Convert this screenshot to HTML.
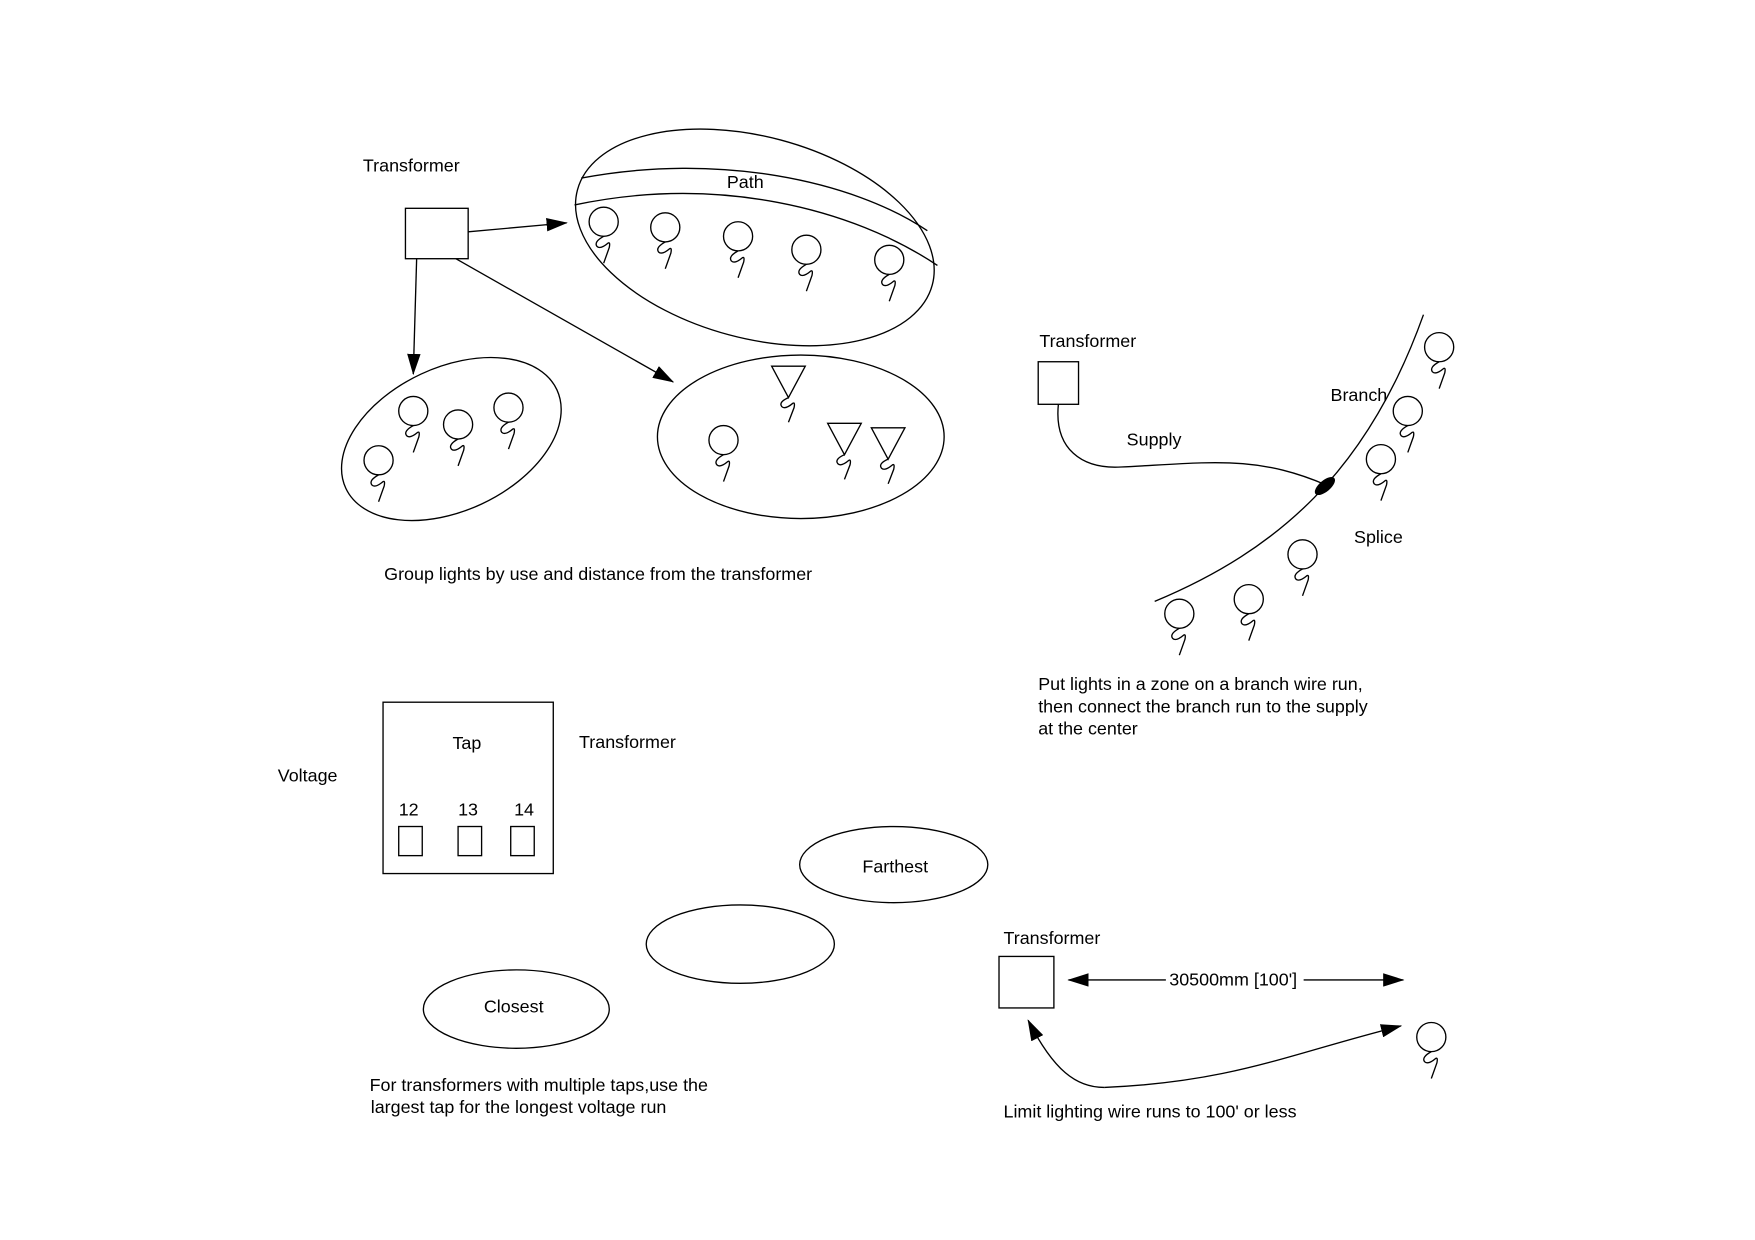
<!DOCTYPE html>
<html><head><meta charset="utf-8"><style>html,body{margin:0;padding:0;background:#fff}svg{display:block}text{font-family:"Liberation Sans",sans-serif;font-size:16px;fill:#000}</style></head><body>
<svg width="1755" height="1240" viewBox="0 0 1567 1107.2" xmlns="http://www.w3.org/2000/svg">
<defs>
<marker id="a" markerWidth="20" markerHeight="12" refX="18" refY="6" orient="auto" markerUnits="userSpaceOnUse"><path d="M0,0 L19,6 L0,12 z" fill="#000"/></marker>
<g id="L"><circle cx="0" cy="0" r="13" fill="none" stroke="#000" stroke-width="1.2"/><path d="M0,13 Q-9,18 -6,22 Q-3,25 4,19 Q6,18 5,23 L0,37" fill="none" stroke="#000" stroke-width="1.2"/></g>
<g id="T"><path d="M-15,0 L15,0 L0,28 z" fill="none" stroke="#000" stroke-width="1.2"/><path d="M0,28 Q-9,32 -6,36 Q-3,39 4,33 Q6,32 5,37 L0,50" fill="none" stroke="#000" stroke-width="1.2"/></g>
</defs>
<g transform="translate(1,1)">
<g fill="none" stroke="#000" stroke-width="1.2">
<rect x="361" y="185" width="56" height="45"/>
<ellipse cx="673" cy="211" rx="164" ry="90" transform="rotate(15 673 211)"/>
<path d="M518,158 C640,135 760,160 827,205"/>
<path d="M512,182 C640,155 760,185 836,236"/>
<ellipse cx="402" cy="391" rx="104" ry="64" transform="rotate(-25 402 391)"/>
<ellipse cx="714" cy="389" rx="128" ry="73"/>
<line x1="417" y1="206" x2="505" y2="198" marker-end="url(#a)"/>
<line x1="371" y1="230" x2="368" y2="333" marker-end="url(#a)"/>
<line x1="406" y1="230" x2="600" y2="340" marker-end="url(#a)"/>
<rect x="926" y="322" width="36" height="38"/>
<path d="M944,360 C940,400 965,418 1000,416 C1080,412 1120,405 1183,432"/>
<path d="M1030,536 C1140,490 1220,420 1270,280"/>
<rect x="341" y="626" width="152" height="153"/>
<rect x="355" y="737" width="21" height="26"/>
<rect x="408" y="737" width="21" height="26"/>
<rect x="455" y="737" width="21" height="26"/>
<ellipse cx="797" cy="771" rx="84" ry="34"/>
<ellipse cx="660" cy="842" rx="84" ry="35"/>
<ellipse cx="460" cy="900" rx="83" ry="35"/>
<rect x="891" y="853" width="49" height="46"/>
<line x1="1040" y1="874" x2="953" y2="874" marker-end="url(#a)"/>
<line x1="1163" y1="874" x2="1252" y2="874" marker-end="url(#a)"/>
<path d="M985,970 C960,970 940,955 917,910" marker-end="url(#a)"/>
<path d="M985,970 C1100,965 1150,940 1250,915" marker-end="url(#a)"/>
</g>
<ellipse cx="1182" cy="433" rx="5" ry="11" transform="rotate(50 1182 433)" fill="#000"/>
<use href="#L" x="538" y="197"/><use href="#L" x="593" y="202"/><use href="#L" x="658" y="210"/><use href="#L" x="719" y="222"/><use href="#L" x="793" y="231"/>
<use href="#L" x="368" y="366"/><use href="#L" x="408" y="378"/><use href="#L" x="453" y="363"/><use href="#L" x="337" y="410"/>
<use href="#L" x="645" y="392"/>
<use href="#T" x="703" y="326"/><use href="#T" x="753" y="377"/><use href="#T" x="792" y="381"/>
<use href="#L" x="1284" y="309"/><use href="#L" x="1256" y="366"/><use href="#L" x="1232" y="409"/><use href="#L" x="1162" y="494"/><use href="#L" x="1114" y="534"/><use href="#L" x="1052" y="547"/>
<use href="#L" x="1277" y="925"/>
<text x="323" y="152">Transformer</text>
<text x="648" y="167">Path</text>
<text x="342" y="517">Group lights by use and distance from the transformer</text>
<text x="927" y="309">Transformer</text>
<text x="1187" y="357">Branch</text>
<text x="1005" y="397">Supply</text>
<text x="1208" y="484">Splice</text>
<text x="926" y="615">Put lights in a zone on a branch wire run,</text>
<text x="926" y="635">then connect the branch run to the supply</text>
<text x="926" y="655">at the center</text>
<text x="403" y="668">Tap</text>
<text x="516" y="667">Transformer</text>
<text x="247" y="697">Voltage</text>
<text x="355" y="727">12</text><text x="408" y="727">13</text><text x="458" y="727">14</text>
<text x="769" y="778">Farthest</text>
<text x="431" y="903">Closest</text>
<text x="329" y="973">For transformers with multiple taps,use the</text>
<text x="330" y="993">largest tap for the longest voltage run</text>
<text x="895" y="842">Transformer</text>
<text x="1043" y="879">30500mm [100']</text>
<text x="895" y="997">Limit lighting wire runs to 100' or less</text>
</g>
</svg>
</body></html>
